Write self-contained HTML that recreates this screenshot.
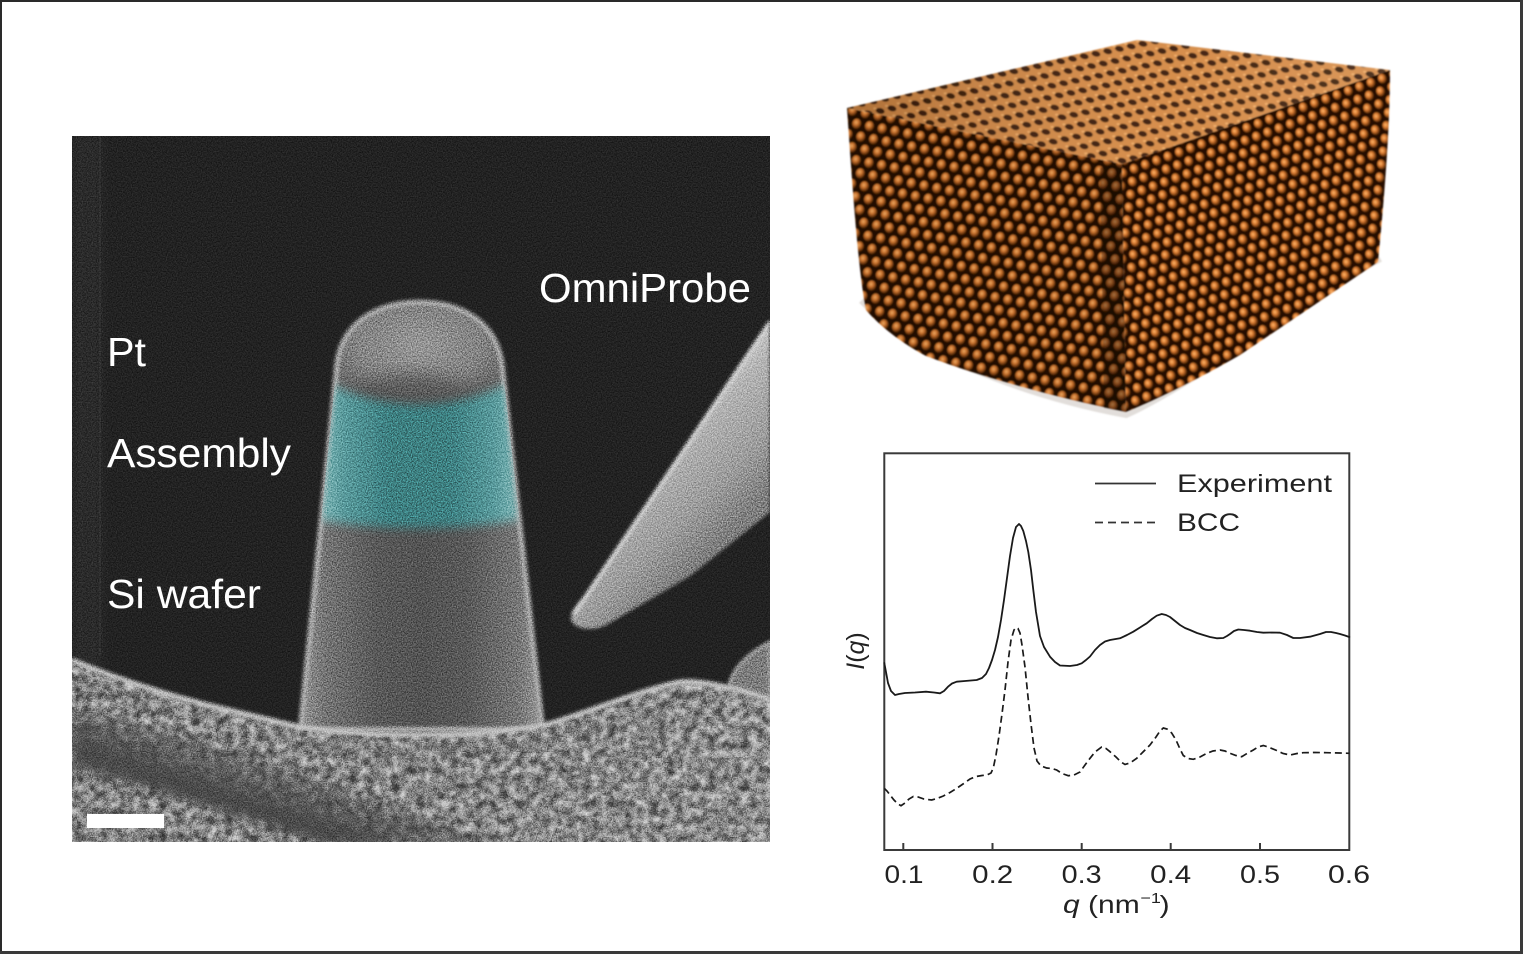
<!DOCTYPE html>
<html>
<head>
<meta charset="utf-8">
<style>
  html,body{margin:0;padding:0;background:#fff;}
  body{width:1523px;height:954px;overflow:hidden;position:relative;}
  svg{position:absolute;left:0;top:0;display:block;}
</style>
</head>
<body>
<svg width="1523" height="954" viewBox="0 0 1523 954" xmlns="http://www.w3.org/2000/svg" font-family="'Liberation Sans', Arial, sans-serif">
  <defs>
    <clipPath id="semClip"><rect x="72" y="136" width="698" height="706"/></clipPath>
    <clipPath id="pillarClip">
      <path d="M300,730 L336,372 C338,322 378,302 419,302 C462,302 500,322 503,372 L543,730 Z"/>
    </clipPath>
    <linearGradient id="pillarG" x1="0" y1="0" x2="1" y2="0">
      <stop offset="0" stop-color="#969696"/>
      <stop offset="0.1" stop-color="#747474"/>
      <stop offset="0.3" stop-color="#5a5a5a"/>
      <stop offset="0.5" stop-color="#525252"/>
      <stop offset="0.7" stop-color="#5a5a5a"/>
      <stop offset="0.9" stop-color="#767676"/>
      <stop offset="1" stop-color="#9a9a9a"/>
    </linearGradient>
    <radialGradient id="domeG" cx="0.5" cy="0.5" r="0.5">
      <stop offset="0" stop-color="#a0a0a0" stop-opacity="0.9"/>
      <stop offset="0.7" stop-color="#9c9c9c" stop-opacity="0.6"/>
      <stop offset="1" stop-color="#9c9c9c" stop-opacity="0"/>
    </radialGradient>
    <linearGradient id="cyanG" x1="0" y1="0" x2="1" y2="0">
      <stop offset="0" stop-color="#86c2c3"/>
      <stop offset="0.12" stop-color="#58a0a2"/>
      <stop offset="0.35" stop-color="#3a8486"/>
      <stop offset="0.65" stop-color="#3a8486"/>
      <stop offset="0.88" stop-color="#58a0a2"/>
      <stop offset="1" stop-color="#86c2c3"/>
    </linearGradient>
    <linearGradient id="probeG" gradientUnits="userSpaceOnUse" x1="640" y1="430" x2="735" y2="525">
      <stop offset="0" stop-color="#d2d2d2"/>
      <stop offset="0.3" stop-color="#b2b2b2"/>
      <stop offset="0.7" stop-color="#9c9c9c"/>
      <stop offset="1" stop-color="#7e7e7e"/>
    </linearGradient>
    <linearGradient id="subG" x1="0" y1="0" x2="1" y2="0">
      <stop offset="0" stop-color="#868686"/>
      <stop offset="0.5" stop-color="#8a8a8a"/>
      <stop offset="1" stop-color="#979797"/>
    </linearGradient>
    <linearGradient id="bandG" gradientUnits="userSpaceOnUse" x1="150" y1="740" x2="130" y2="800">
      <stop offset="0" stop-color="#474747" stop-opacity="0.5"/>
      <stop offset="0.5" stop-color="#474747" stop-opacity="1"/>
      <stop offset="1" stop-color="#474747" stop-opacity="0.6"/>
    </linearGradient>
    <filter id="soft" x="-10%" y="-10%" width="120%" height="120%">
      <feGaussianBlur stdDeviation="1.6"/>
    </filter>
    <filter id="soft4" x="-20%" y="-20%" width="140%" height="140%">
      <feGaussianBlur stdDeviation="5"/>
    </filter>
    <filter id="soft8" x="-30%" y="-30%" width="160%" height="160%">
      <feGaussianBlur stdDeviation="8"/>
    </filter>
    <filter id="fine" x="0" y="0" width="100%" height="100%" color-interpolation-filters="sRGB">
      <feTurbulence type="fractalNoise" baseFrequency="0.8" numOctaves="2" seed="4"/>
      <feColorMatrix type="saturate" values="0"/>
      <feComponentTransfer>
        <feFuncR type="linear" slope="2.2" intercept="-0.6"/>
        <feFuncG type="linear" slope="2.2" intercept="-0.6"/>
        <feFuncB type="linear" slope="2.2" intercept="-0.6"/>
        <feFuncA type="linear" slope="0" intercept="1"/>
      </feComponentTransfer>
    </filter>
    <filter id="blotch" x="0" y="0" width="100%" height="100%" color-interpolation-filters="sRGB">
      <feTurbulence type="fractalNoise" baseFrequency="0.12" numOctaves="3" seed="9"/>
      <feColorMatrix type="saturate" values="0"/>
      <feComponentTransfer>
        <feFuncR type="linear" slope="2" intercept="-0.5"/>
        <feFuncG type="linear" slope="2" intercept="-0.5"/>
        <feFuncB type="linear" slope="2" intercept="-0.5"/>
        <feFuncA type="linear" slope="0" intercept="1"/>
      </feComponentTransfer>
    </filter>
    <clipPath id="subClip">
      <path d="M72,660 C120,680 170,695 200,703 C250,715 280,722 300,727 C360,737 480,738 545,725 C590,712 640,690 680,682 C700,680 720,686 740,690 C755,694 765,698 770,700 L770,842 L72,842 Z"/>
    </clipPath>

    <!-- block patterns -->
    <radialGradient id="blob" cx="0.42" cy="0.38" r="0.6">
      <stop offset="0" stop-color="#ffb86c"/>
      <stop offset="0.45" stop-color="#d97b31"/>
      <stop offset="1" stop-color="#5a2a08"/>
    </radialGradient>
    <pattern id="frontPat" width="13" height="24" patternUnits="userSpaceOnUse" patternTransform="rotate(11)">
      <rect width="13" height="24" fill="#241003"/>
      <ellipse cx="6.5" cy="6" rx="4.6" ry="5.2" fill="url(#blob)"/>
      <ellipse cx="0" cy="18" rx="4.6" ry="5.2" fill="url(#blob)"/>
      <ellipse cx="13" cy="18" rx="4.6" ry="5.2" fill="url(#blob)"/>
    </pattern>
    <pattern id="rightPat" width="12" height="23" patternUnits="userSpaceOnUse" patternTransform="rotate(-20)">
      <rect width="12" height="23" fill="#261104"/>
      <ellipse cx="6" cy="6" rx="4.3" ry="5" fill="url(#blob)"/>
      <ellipse cx="0" cy="17.5" rx="4.3" ry="5" fill="url(#blob)"/>
      <ellipse cx="12" cy="17.5" rx="4.3" ry="5" fill="url(#blob)"/>
    </pattern>
    <pattern id="topPat" width="12" height="11" patternUnits="userSpaceOnUse" patternTransform="rotate(-12) skewX(25)">
      <rect width="12" height="11" fill="#d48843"/>
      <ellipse cx="6" cy="5.5" rx="3.9" ry="3.2" fill="#3a1a05"/>
      <ellipse cx="3" cy="2" rx="1.6" ry="1.2" fill="#f0aa62"/>
    </pattern>
    <linearGradient id="topShade" x1="0" y1="0" x2="1" y2="0">
      <stop offset="0" stop-color="#000" stop-opacity="0.18"/>
      <stop offset="0.6" stop-color="#fff" stop-opacity="0.05"/>
      <stop offset="1" stop-color="#fff" stop-opacity="0.12"/>
    </linearGradient>
    <filter id="blockSoft" x="-5%" y="-5%" width="110%" height="110%">
      <feGaussianBlur stdDeviation="0.7"/>
    </filter>
  </defs>

  <!-- white background -->
  <rect x="0" y="0" width="1523" height="954" fill="#ffffff"/>

  <!-- ============ SEM IMAGE ============ -->
  <g clip-path="url(#semClip)">
    <rect x="72" y="136" width="698" height="706" fill="#222222"/>
    <rect x="72" y="136" width="30" height="540" fill="#2b2b2b" filter="url(#soft4)"/>
    <rect x="99" y="136" width="2" height="520" fill="#303030"/>

    <!-- pillar -->
    <g filter="url(#soft)">
      <path d="M300,730 L336,372 C338,322 378,302 419,302 C462,302 500,322 503,372 L543,730 Z" fill="url(#pillarG)" stroke="#a0a0a0" stroke-width="5"/>
    </g>
    <g clip-path="url(#pillarClip)">
      <ellipse cx="419" cy="345" rx="90" ry="62" fill="url(#domeG)" filter="url(#soft4)"/>
      <ellipse cx="412" cy="393" rx="55" ry="18" fill="#565656" opacity="0.85" filter="url(#soft8)"/>
      <path d="M325,382 Q418,428 512,382 L520,520 Q418,536 318,520 Z" fill="url(#cyanG)" opacity="0.9" filter="url(#soft4)"/>
      <path d="M300,730 L336,372 C338,322 378,302 419,302 C462,302 500,322 503,372 L543,730 Z" fill="none" stroke="#bcbcbc" stroke-width="5" opacity="0.45" filter="url(#soft)"/>
    </g>

    <!-- probe -->
    <g filter="url(#soft)">
      <path d="M571,620 C570,612 576,605 584,596 L770,320 L770,512 L690,576 L608,624 C594,632 575,630 571,620 Z" fill="url(#probeG)"/>
      <path d="M574,614 L770,322" stroke="#d6d6d6" stroke-width="4" fill="none"/>
    </g>

    <!-- right bump -->
    <g filter="url(#soft)">
      <path d="M728,692 C730,668 750,652 770,642 L770,702 Z" fill="#7c7c7c" stroke="#acacac" stroke-width="3"/>
    </g>

    <!-- substrate -->
    <path d="M72,660 C120,680 170,695 200,703 C250,715 280,722 300,727 C360,737 480,738 545,725 C590,712 640,690 680,682 C700,680 720,686 740,690 C755,694 765,698 770,700 L770,842 L72,842 Z" fill="url(#subG)"/>
    <g clip-path="url(#subClip)">
      <rect x="72" y="640" width="698" height="210" fill="#808080" filter="url(#blotch)" style="mix-blend-mode:overlay" opacity="0.55"/>
      <path d="M72,708 C150,730 250,755 330,785 C400,810 450,830 485,845 L325,845 C260,822 160,792 72,768 Z" fill="url(#bandG)" filter="url(#soft4)"/>
      <path d="M300,745 C360,752 480,752 545,740 C600,728 660,705 700,700" stroke="#5e5e5e" stroke-width="8" fill="none" opacity="0.35" filter="url(#soft4)"/>
    </g>
    <path d="M72,660 C120,680 170,695 200,703 C250,715 280,722 300,727 C360,737 480,738 545,725 C590,712 640,690 680,682 C700,680 720,686 740,690 C755,694 765,698 770,700" fill="none" stroke="#c4c4c4" stroke-width="5" filter="url(#soft)"/>

    <!-- fine grain -->
    <rect x="72" y="136" width="698" height="706" fill="#808080" filter="url(#fine)" style="mix-blend-mode:overlay" opacity="0.55"/>

    <!-- scale bar -->
    <rect x="87" y="814" width="77" height="14" fill="#ffffff"/>

    <!-- labels -->
    <g fill="#ffffff" font-size="41">
      <text x="107" y="366" textLength="39" lengthAdjust="spacingAndGlyphs">Pt</text>
      <text x="107" y="467" textLength="184" lengthAdjust="spacingAndGlyphs">Assembly</text>
      <text x="107" y="608" textLength="154" lengthAdjust="spacingAndGlyphs">Si wafer</text>
      <text x="539" y="302" textLength="212" lengthAdjust="spacingAndGlyphs">OmniProbe</text>
    </g>
  </g>

  <!-- ============ 3D BLOCK ============ -->
  <g filter="url(#blockSoft)">
    <path d="M862,300 C900,340 1000,390 1126,414 C1200,380 1300,300 1380,258" fill="none" stroke="#8a7a70" stroke-width="8" opacity="0.25"/>
    <path d="M847,108 L1122,164 L1126,412 C1060,398 990,380 926,356 C900,342 880,326 866,310 C858,270 852,180 847,108 Z" fill="url(#frontPat)"/>
    <path d="M1122,164 L1390,70 C1390,130 1384,200 1378,262 L1240,355 C1200,378 1160,398 1126,412 Z" fill="url(#rightPat)"/>
    <path d="M847,108 L1137,40 L1390,70 L1122,164 Z" fill="url(#topPat)"/>
    <path d="M847,108 L1137,40 L1390,70 L1122,164 Z" fill="url(#topShade)"/>
    <path d="M1100,168 L1122,164 L1126,412 L1104,408 Z" fill="#1a0a02" opacity="0.35"/>
    <path d="M847,108 L1122,164 L1126,412 C1060,398 990,380 926,356 C900,342 880,326 866,310 C858,270 852,180 847,108 Z" fill="#000" opacity="0.08"/>
  </g>

  <!-- ============ CHART ============ -->
  <g>
    <rect x="884.3" y="453.3" width="465" height="396.7" fill="none" stroke="#3a3a3a" stroke-width="2"/>
    <g stroke="#3a3a3a" stroke-width="2">
      <line x1="903.3" y1="850" x2="903.3" y2="843"/>
      <line x1="992.5" y1="850" x2="992.5" y2="843"/>
      <line x1="1081.7" y1="850" x2="1081.7" y2="843"/>
      <line x1="1170.7" y1="850" x2="1170.7" y2="843"/>
      <line x1="1260" y1="850" x2="1260" y2="843"/>
    </g>
    <g fill="#222" font-size="25" text-anchor="middle">
      <text x="904" y="883" textLength="39" lengthAdjust="spacingAndGlyphs">0.1</text>
      <text x="992.7" y="883" textLength="41" lengthAdjust="spacingAndGlyphs">0.2</text>
      <text x="1081.7" y="883" textLength="40" lengthAdjust="spacingAndGlyphs">0.3</text>
      <text x="1170.7" y="883" textLength="41" lengthAdjust="spacingAndGlyphs">0.4</text>
      <text x="1260" y="883" textLength="40" lengthAdjust="spacingAndGlyphs">0.5</text>
      <text x="1349" y="883" textLength="42" lengthAdjust="spacingAndGlyphs">0.6</text>
    </g>
    <g fill="#222" transform="translate(1063,913) scale(1.2,1)">
      <text x="0" y="0" font-size="25"><tspan font-style="italic">q</tspan> (nm</text>
      <text x="64.5" y="-10" font-size="15">−1</text>
      <text x="80.5" y="0" font-size="25">)</text>
    </g>
    <text transform="translate(864,651) rotate(-90)" text-anchor="middle" font-size="25" fill="#222"><tspan font-style="italic">I</tspan>(<tspan font-style="italic">q</tspan>)</text>

    <line x1="1095" y1="483.5" x2="1156" y2="483.5" stroke="#333" stroke-width="1.7"/>
    <line x1="1095" y1="522.5" x2="1156" y2="522.5" stroke="#333" stroke-width="1.7" stroke-dasharray="8 5"/>
    <text x="1177" y="492" font-size="25" fill="#222" textLength="155" lengthAdjust="spacingAndGlyphs">Experiment</text>
    <text x="1177" y="531" font-size="25" fill="#222" textLength="63" lengthAdjust="spacingAndGlyphs">BCC</text>

    <polyline fill="none" stroke="#1a1a1a" stroke-width="1.8" stroke-linejoin="round" stroke-linecap="round"
      points="884.3,663 886,672 888,683 891,691 895,695 899,694 905,693 915,692.5 926,691.7 934,692.5 940,693.3 944,691 948,686.7 952,683.5 956.7,681.7 965,681 976.7,680 982,678 986,674 989,668 992,660 995,650 998,637 1001,620 1004,600 1007,578 1010,556 1013,538 1016,527 1019,524 1021,526 1023.3,531 1026,541 1028.3,552 1031,570 1033.3,590 1036,612 1040,636 1044,647 1050,656.7 1055,662 1060,665.5 1070,666 1077,665 1081.7,663.3 1086,660 1090,656.5 1095,650 1100,645 1105,641.5 1110,640 1120,638.3 1127,635 1133.3,631.7 1140,627.5 1146.7,623.3 1152,619 1156.7,615.7 1161.7,614 1166,615 1170,617 1175,621 1180,625 1185,628 1190,630 1197,633 1203.3,635 1210,637 1216.7,638.3 1223.3,638 1227,636 1230,634 1234,631 1238.3,629.5 1244,630 1250,630.7 1257,632 1263.3,632.7 1272,632.5 1280,632.7 1287,635 1293.3,638 1300,638 1310,636.7 1320,634 1326,632 1331,632 1336,633 1340,634 1345,635.5 1349.3,637"/>

    <polyline fill="none" stroke="#1a1a1a" stroke-width="1.7" stroke-dasharray="7 4"
      points="884.3,788.3 887,791 890,795 894,800 898,804 901,805.7 905,803 909,799 913.3,796.5 918,797 924,799 931.7,800 937,798.5 943.3,796 950,792.5 956.7,788.3 963,784 970,779 976,776.5 982,775.5 987,775 991,773 993.3,768 996,755 999,736 1002,714 1005,690 1008,662 1011,640 1014,630 1016,627.5 1018,628.5 1020,633 1022,645 1025,667 1028,697 1031,724 1034,748 1037,761 1041,766 1046.7,768 1052,768.5 1056.7,770 1062,773.5 1068.3,775.7 1074,775 1080,772 1085,765 1090,758.3 1095,752 1101.7,747 1106,748.5 1110,751.7 1116,757 1121,762 1125,764.5 1130,763 1136.7,758.3 1143,752 1150,745 1156,737 1160,731 1163.3,728 1167,729 1171.7,733 1176,740 1180,749 1183.3,755.5 1188,758.5 1193.3,759.3 1200,757 1206.7,753.3 1213,751 1220,750 1225,751 1230,753.3 1236,755.5 1241.7,756.7 1247,753.5 1253.3,750 1258,747 1263.3,745.5 1268,747 1276.7,750.5 1283,753.5 1290,755 1297,753.5 1303.3,752.7 1315,752.5 1326.7,752.7 1340,753 1349.3,753.3"/>
  </g>

  <!-- outer frame -->
  <rect x="1" y="1" width="1520" height="951" fill="none" stroke="#2a2a2a" stroke-width="2"/>
  <rect x="1520" y="0" width="3" height="954" fill="#3a3a3a"/>
  <rect x="0" y="951" width="1523" height="3" fill="#3a3a3a"/>
</svg>
</body>
</html>
